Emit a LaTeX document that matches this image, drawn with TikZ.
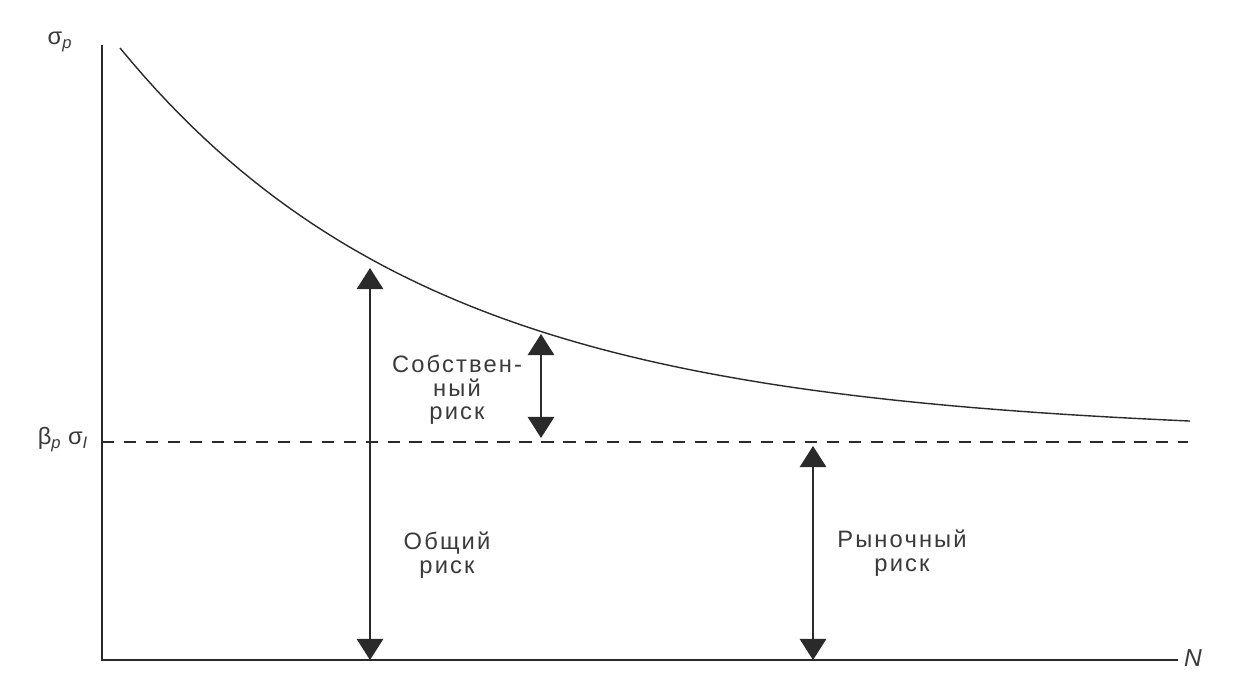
\documentclass[tikz,border=0pt]{standalone}
\usepackage{fontspec}
\setmainfont{Liberation Sans}
\usepackage{tikz}
\usetikzlibrary{arrows.meta}
\definecolor{ink}{HTML}{2a2a2a}
\definecolor{inktext}{HTML}{3a3a3a}
\tikzset{
  axisline/.style={draw=ink, line width=0.8pt},
  riskarrow/.style={draw=ink, line width=1.1pt,
    {Triangle[width=15pt,length=12pt]}-{Triangle[width=15pt,length=12pt]}},
  risklabel/.style={text=inktext, align=center, inner sep=0pt,
    font=\fontsize{13.5}{13.5}\selectfont\addfontfeature{LetterSpace=9}},
  axislabel/.style={text=inktext, inner sep=0pt, font=\fontsize{13.5}{14}\selectfont}
}
\begin{document}
\begin{tikzpicture}[x=0.02cm, y=-0.02cm]
\useasboundingbox (0,0) rectangle (1246,672);

% axes
\coordinate (origin) at (102,660);
\coordinate (ytop) at (102,45);
\coordinate (xend) at (1178,660);
\draw[axisline] (ytop) -- (origin) -- (xend);

\node[axislabel] (sigmap) at (60,42) {σ\textsubscript{\itshape p}};
\node[axislabel] (betasigma) at (63,440) {β\textsubscript{\itshape p} σ\textsubscript{\itshape I}};
\node[axislabel, font=\fontsize{14}{14}\selectfont\itshape] (nlabel) at (1193,658) {N};

% market level
\coordinate (dashstart) at (102,442);
\coordinate (dashend) at (1188,442);
\draw[draw=ink, line width=0.7pt, dash pattern=on 7pt off 5.5pt] (dashstart) -- (dashend);

% total risk curve
\draw[draw=ink, line width=0.8pt] plot[domain=120:1190, samples=90]
  (\x, {428-380*exp(-0.0032*(\x-120))+0.005*(\x-120)});

% arrows
\coordinate (totaltop) at (370,268);
\coordinate (totalbot) at (370,660);
\draw[riskarrow] (totalbot) -- (totaltop);

\coordinate (owntop) at (541,334);
\coordinate (ownbot) at (541,438);
\draw[riskarrow] (ownbot) -- (owntop);

\coordinate (markettop) at (813,446);
\coordinate (marketbot) at (813,660);
\draw[riskarrow] (marketbot) -- (markettop);

% labels
\node[risklabel] (ownrisk) at (457,390) {Собствен-\\ный\\риск};
\node[risklabel] (totalrisk) at (447,555) {Общий\\риск};
\node[risklabel] (marketrisk) at (902,553) {Рыночный\\риск};
\end{tikzpicture}
\end{document}
